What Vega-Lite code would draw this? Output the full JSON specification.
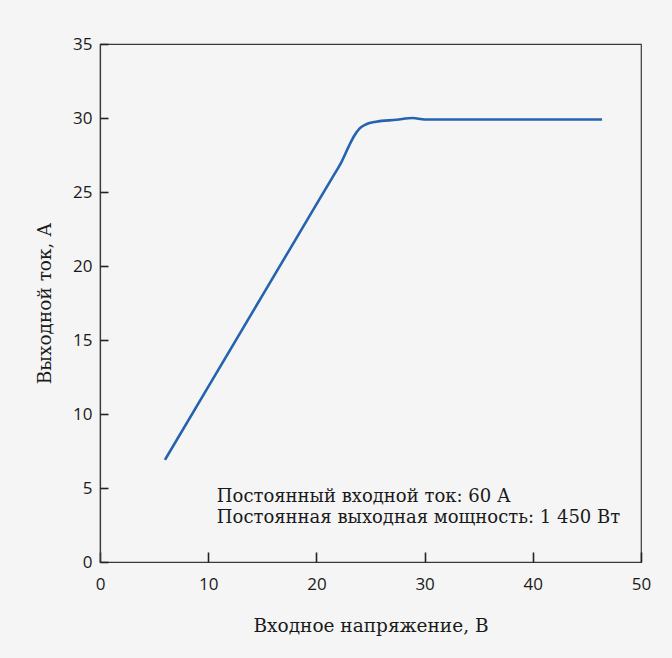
{
  "$schema": "https://vega.github.io/schema/vega-lite/v6.json",
  "autosize": "none",
  "width": 541,
  "height": 518,
  "padding": {"left": 100, "top": 44, "right": 31, "bottom": 96},
  "background": "#f5f5f5",
  "config": {
    "view": {"stroke": "#3a3a3a", "strokeWidth": 1.2, "fill": null},
    "axis": {
      "grid": false,
      "labelFlush": false,
      "labelOverlap": false,
      "domainColor": "#3a3a3a",
      "domainWidth": 1.2,
      "tickColor": "#222222",
      "tickWidth": 1.6,
      "labelFont": "Open Sans",
      "labelFontSize": 17,
      "labelColor": "#1a1a1a",
      "titleFont": "DejaVu Serif",
      "titleFontSize": 18.5,
      "titleFontWeight": "normal",
      "titleColor": "#1a1a1a"
    }
  },
  "resolve": {"axis": {"x": "independent", "y": "independent"}},
  "layer": [
    {
      "data": {"values": [
        {"u": 6.0, "i": 6.9},
        {"u": 10.0, "i": 11.83},
        {"u": 15.0, "i": 18.0},
        {"u": 20.0, "i": 24.16},
        {"u": 21.5, "i": 26.01},
        {"u": 22.3, "i": 27.0},
        {"u": 23.0, "i": 28.1},
        {"u": 23.5, "i": 28.8},
        {"u": 24.0, "i": 29.3},
        {"u": 24.6, "i": 29.58},
        {"u": 25.5, "i": 29.75},
        {"u": 27.4, "i": 29.88},
        {"u": 28.9, "i": 30.0},
        {"u": 30.0, "i": 29.9},
        {"u": 46.4, "i": 29.9}
      ]},
      "mark": {"type": "line", "color": "#2563b0", "strokeWidth": 2.6, "interpolate": "monotone"},
      "encoding": {
        "x": {"field": "u", "type": "quantitative",
              "scale": {"domain": [0, 50], "nice": false, "zero": false},
              "axis": {"orient": "bottom", "values": [0, 10, 20, 30, 40, 50], "tickSize": 0, "tickOpacity": 0, "labelPadding": 14, "title": "Входное напряжение, В", "titlePadding": 24}},
        "y": {"field": "i", "type": "quantitative",
              "scale": {"domain": [0, 35], "nice": false, "zero": false},
              "axis": {"orient": "left", "values": [0, 5, 10, 15, 20, 25, 30, 35], "tickSize": 0, "tickOpacity": 0, "labelPadding": 8, "title": "Выходной ток, А", "titlePadding": 18}}
      }
    },
    {
      "data": {"values": [
        {"u": 10.8, "i": 4.05, "label": "Постоянный входной ток: 60 А"},
        {"u": 10.8, "i": 2.63, "label": "Постоянная выходная мощность: 1 450 Вт"}
      ]},
      "mark": {"type": "text", "align": "left", "baseline": "alphabetic", "font": "DejaVu Serif", "fontSize": 18, "color": "#1a1a1a"},
      "encoding": {
        "x": {"field": "u", "type": "quantitative",
              "axis": {"orient": "bottom", "offset": -10, "values": [0, 10, 20, 30, 40, 50], "tickSize": 10, "domain": false, "labels": false, "title": null}},
        "y": {"field": "i", "type": "quantitative",
              "axis": {"orient": "left", "offset": -8, "values": [0, 5, 10, 15, 20, 25, 30, 35], "tickSize": 8, "domain": false, "labels": false, "title": null}},
        "text": {"field": "label", "type": "nominal"}
      }
    }
  ]
}
